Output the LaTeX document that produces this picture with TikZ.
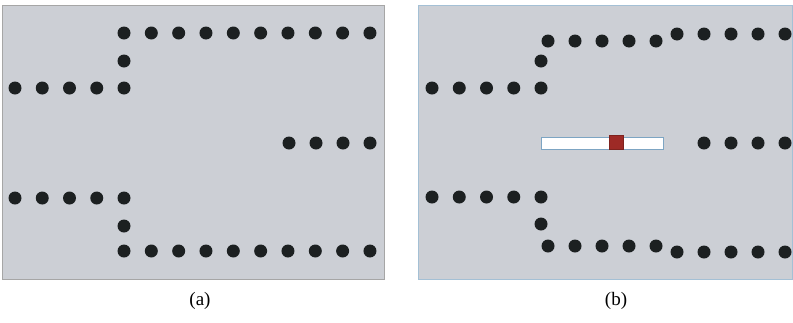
\documentclass[tikz,border=0pt]{standalone}
\usepackage{fontspec}
\setmainfont{Liberation Serif}
\usetikzlibrary{positioning}
\definecolor{panelgray}{RGB}{204,207,213}
\definecolor{dotblack}{RGB}{28,32,33}
\definecolor{barline}{RGB}{125,165,195}
\definecolor{knobred}{RGB}{158,42,38}
\tikzset{
  panel/.style ={fill=panelgray, draw=gray!70, line width=0.8pt},
  dot/.style   ={fill=dotblack},
  bar/.style   ={fill=white, draw=barline, line width=0.6pt},
  knob/.style  ={fill=knobred, draw=knobred!80!black, line width=0.4pt},
  sublabel/.style ={font=\fontsize{19}{22}\selectfont, inner sep=0pt},
}
\newcommand{\dotr}{6.5}
\begin{document}
\begin{tikzpicture}[x=1pt,y=-1pt]
\useasboundingbox (0,0) rectangle (793,322);
% panel (a)
\draw[panel] (2,5) rectangle (384,279);
\foreach \i in {0,...,9}{
  \fill[dot] (124+27.33*\i,33) circle (\dotr);
  \fill[dot] (124+27.33*\i,251) circle (\dotr);
}
\foreach \i in {0,...,4}{
  \fill[dot] (15+27.25*\i,88) circle (\dotr);
  \fill[dot] (15+27.25*\i,198) circle (\dotr);
}
\fill[dot] (124,61) circle (\dotr);
\fill[dot] (124,226) circle (\dotr);
\foreach \i in {0,...,3}
  \fill[dot] (289+27*\i,143) circle (\dotr);
\node[sublabel] (capa) at (200,301) {(a)};
% panel (b)
\draw[panel, draw=barline!70] (418,5) rectangle (792.5,279);
\foreach \i in {0,...,4}{
  \fill[dot] (432+27.25*\i,88) circle (\dotr);
  \fill[dot] (432+27.25*\i,197) circle (\dotr);
  \fill[dot] (548+27*\i,41) circle (\dotr);
  \fill[dot] (548+27*\i,246) circle (\dotr);
  \fill[dot] (677+27*\i,34) circle (\dotr);
  \fill[dot] (677+27*\i,252) circle (\dotr);
}
\fill[dot] (541,61) circle (\dotr);
\fill[dot] (541,224) circle (\dotr);
\foreach \i in {0,...,3}
  \fill[dot] (704+27*\i,143) circle (\dotr);
\draw[bar] (541,137) rectangle (663,149);
\draw[knob] (609,135.5) rectangle (623,149.5);
\node[sublabel] (capb) at (616,301) {(b)};
\end{tikzpicture}
\end{document}
